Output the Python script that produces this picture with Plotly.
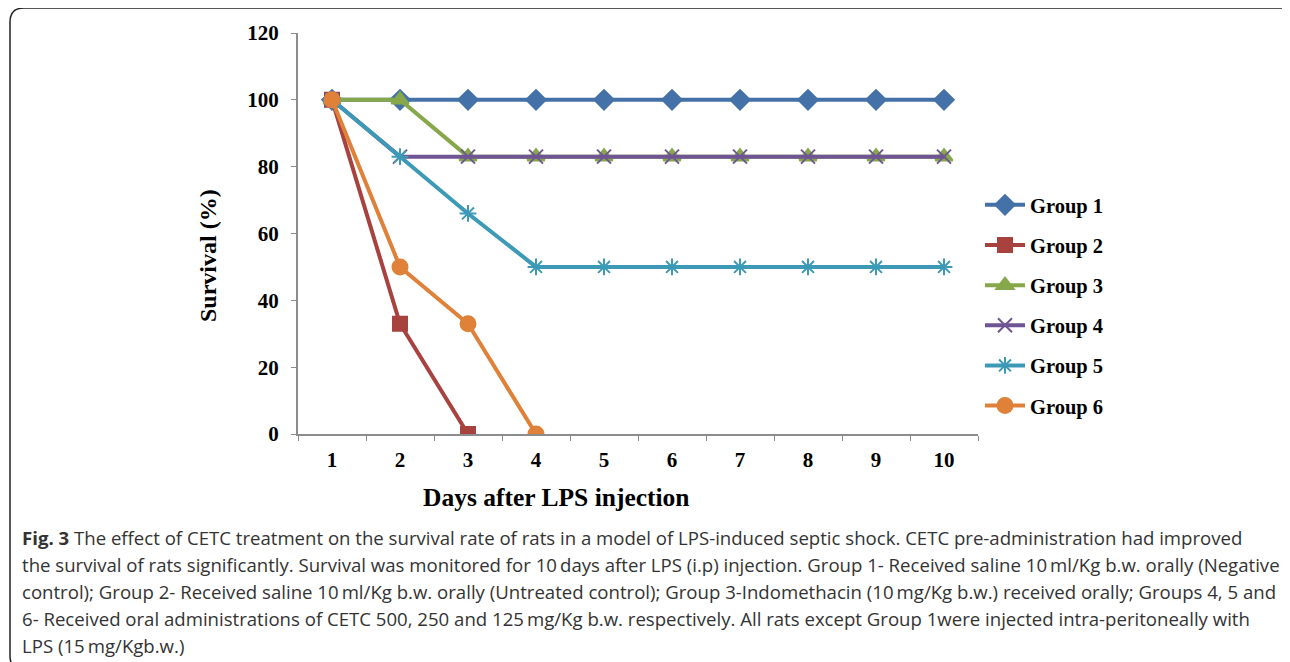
import plotly.graph_objects as go

days = [1, 2, 3, 4, 5, 6, 7, 8, 9, 10]
group_names = ["Group 1", "Group 2", "Group 3", "Group 4", "Group 5", "Group 6"]
group1 = [100, 100, 100, 100, 100, 100, 100, 100, 100, 100]
group2 = [100, 33, 0, None, None, None, None, None, None, None]
group3 = [100, 100, 83, 83, 83, 83, 83, 83, 83, 83]
group4 = [100, 83, 83, 83, 83, 83, 83, 83, 83, 83]
group5 = [100, 83, 66, 50, 50, 50, 50, 50, 50, 50]
group6 = [100, 50, 33, 0, None, None, None, None, None, None]
y_ticks = [0, 20, 40, 60, 80, 100, 120]

caption_lines = [
    "<b>Fig. 3</b> The effect of CETC treatment on the survival rate of rats in a model of LPS-induced septic shock. CETC pre-administration had improved",
    "the survival of rats significantly. Survival was monitored for 10\u2009days after LPS (i.p) injection. Group 1- Received saline 10\u2009ml/Kg b.w. orally (Negative",
    "control); Group 2- Received saline 10\u2009ml/Kg b.w. orally (Untreated control); Group 3-Indomethacin (10\u2009mg/Kg b.w.) received orally; Groups 4, 5 and",
    "6- Received oral administrations of CETC 500, 250 and 125\u2009mg/Kg b.w. respectively. All rats except Group 1were injected intra-peritoneally with",
    "LPS (15\u2009mg/Kgb.w.)",
]

series = [group1, group2, group3, group4, group5, group6]
colors = ["#4472A8", "#A8423F", "#86A84A", "#6F5593", "#3D9AB6", "#DF8139"]
symbols = ["diamond", "square", "triangle-up", "x-thin-open", "asterisk-open", "circle"]
sizes = [15, 14, 15, 14, 14, 15]

# page body has an 8px margin; work in reference pixels shifted by it
OFF = 8
W, H = 1290 - OFF, 662 - OFF
L, R, T, B = 298 - OFF, 312, 33 - OFF, 228
PW, PH = W - L - R, H - T - B

def px(x):
    return (x - OFF - L) / PW

def py(y):
    return (H - B - (y - OFF)) / PH

fig = go.Figure()
for name, vals, c, s, sz in zip(group_names, series, colors, symbols, sizes):
    fig.add_trace(go.Scatter(
        x=[str(d) for d in days], y=vals, name=name, mode="lines+markers",
        legendgroup=name,
        line=dict(color=c, width=4),
        marker=dict(symbol=s, size=sz, color=c, line=dict(color=c, width=2)),
        connectgaps=False,
    ))

serif = "Liberation Serif"
bold_tick = dict(family=serif, size=21, color="black", weight="bold")
fig.update_layout(
    width=W, height=H,
    margin=dict(l=L, r=R, t=T, b=B),
    paper_bgcolor="white", plot_bgcolor="white",
    font=dict(family=serif, color="black"),
    showlegend=True,
    legend=dict(x=px(980), y=py(185), xanchor="left", yanchor="top",
                font=dict(family=serif, size=20.5, color="black", weight="bold"),
                tracegroupgap=10.5, itemwidth=40, bgcolor="rgba(0,0,0,0)"),
    xaxis=dict(type="category", range=[-0.5, 9.5], showgrid=False,
               showline=True, linecolor="#8c8c8c", linewidth=2,
               ticks="outside", tickson="boundaries", ticklen=5, tickcolor="#8c8c8c",
               tickfont=bold_tick, ticklabelstandoff=6, zeroline=False),
    yaxis=dict(range=[0, 120], tickvals=y_ticks, showgrid=False,
               showline=True, linecolor="#8c8c8c", linewidth=2,
               ticks="outside", ticklen=5, tickcolor="#8c8c8c",
               tickfont=bold_tick, ticklabelstandoff=8, zeroline=False),
)

fig.add_annotation(text="<b>Survival (%)</b>", xref="paper", yref="paper",
                   x=px(208), y=py(256), xanchor="center", yanchor="middle", textangle=-90,
                   showarrow=False, font=dict(family=serif, size=24, color="black"))
fig.add_annotation(text="<b>Days after LPS injection</b>", xref="paper", yref="paper",
                   x=px(556), y=py(497), xanchor="center", yanchor="middle",
                   showarrow=False, font=dict(family=serif, size=25.5, color="black"))

line_y = [537, 564, 591, 618, 645]
for txt, yy in zip(caption_lines, line_y):
    fig.add_annotation(text=txt, xref="paper", yref="paper",
                       x=px(20), y=py(yy), xanchor="left", yanchor="middle",
                       showarrow=False, align="left",
                       font=dict(family="Open Sans", size=18.6, color="#333333"))

# rounded border around the figure
x0, x1, y0, y1, r = px(10), px(1300), py(8), py(670), 14
rx, ry = r / PW, r / PH
path = (f"M {x0+rx},{y0} L {x1-rx},{y0} Q {x1},{y0} {x1},{y0-ry} "
        f"L {x1},{y1+ry} Q {x1},{y1} {x1-rx},{y1} L {x0+rx},{y1} Q {x0},{y1} {x0},{y1+ry} "
        f"L {x0},{y0-ry} Q {x0},{y0} {x0+rx},{y0} Z")
fig.add_shape(type="path", path=path, xref="paper", yref="paper",
              line=dict(color="#222222", width=1.5), layer="below")

fig.write_html("out.html")
